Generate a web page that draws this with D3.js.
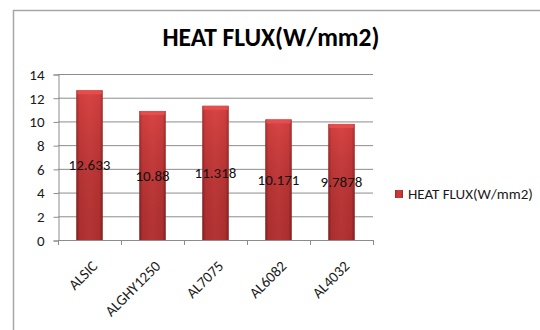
<!DOCTYPE html>
<html><head><meta charset="utf-8">
<script src="https://cdn.jsdelivr.net/npm/d3@7"></script>
<style>body{margin:0;background:#fff}svg{display:block}</style>
</head><body>
<script>
const categories = ["ALSIC","ALGHY1250","AL7075","AL6082","AL4032"];
const values = [12.633, 10.88, 11.318, 10.171, 9.7878];
const labels = ["12.633","10.88","11.318","10.171","9.7878"];
const yTicks = [0,2,4,6,8,10,12,14];
const seriesName = "HEAT FLUX(W/mm2)";
const titleText = "HEAT FLUX(W/mm2)";

(function(){
const W=540,H=330;
const font = "Carlito, 'Liberation Sans', Arial, sans-serif";
const svg=d3.select("body").append("svg").attr("width",W).attr("height",H);
const defs=svg.append("defs");
const g1=defs.append("linearGradient").attr("id","barH").attr("x1","0").attr("x2","1").attr("y1","0").attr("y2","0");
g1.append("stop").attr("offset","0").attr("stop-color","#8a2020");
g1.append("stop").attr("offset","0.12").attr("stop-color","#c23434");
g1.append("stop").attr("offset","0.5").attr("stop-color","#cc3b3b");
g1.append("stop").attr("offset","0.88").attr("stop-color","#c23434");
g1.append("stop").attr("offset","1").attr("stop-color","#8a2020");
const g2=defs.append("linearGradient").attr("id","barV").attr("x1","0").attr("x2","0").attr("y1","0").attr("y2","1");
g2.append("stop").attr("offset","0").attr("stop-color","#ff6060").attr("stop-opacity","0.25");
g2.append("stop").attr("offset","1").attr("stop-color","#000000").attr("stop-opacity","0.12");

svg.append("rect").attr("x",13.5).attr("y",10.5).attr("width",W).attr("height",H).attr("fill","none").attr("stroke","#a6a6a6").attr("stroke-width",1.5);

svg.append("text").attr("x",271).attr("y",46).attr("text-anchor","middle")
  .attr("font-family",font).attr("font-weight","bold").attr("font-size",25.5).attr("fill","#000").text(titleText);

const pL=58,pR=373,pT=74,pB=240;
const x=d3.scaleBand().domain(categories).range([pL,pR]).paddingInner(0.58).paddingOuter(0.29);
const xb=d3.scaleBand().domain(categories).range([pL,pR]);
const y=d3.scaleLinear().domain([0,14]).range([pB,pT]);

svg.append("g").selectAll("line").data(yTicks.filter(d=>d>0)).join("line")
  .attr("x1",pL).attr("x2",pR).attr("y1",d=>y(d)+0.5).attr("y2",d=>y(d)+0.5)
  .attr("stroke","#8c8c8c").attr("stroke-width",1);

const ya=svg.append("g").attr("transform",`translate(${pL+0.5},0.5)`)
  .call(d3.axisLeft(y).tickValues(yTicks).tickSize(5).tickPadding(9).tickFormat(d3.format("d")));
ya.select(".domain").attr("stroke","#8c8c8c");
ya.selectAll(".tick line").attr("stroke","#8c8c8c");
ya.selectAll("text").attr("font-family",font).attr("font-size",15).attr("fill","#1a1a1a");

const bars=svg.append("g").selectAll("g").data(categories).join("g");
bars.append("rect").attr("x",d=>x(d)).attr("width",x.bandwidth())
  .attr("y",(d,i)=>y(values[i])).attr("height",(d,i)=>pB-y(values[i])).attr("fill","url(#barH)");
bars.append("rect").attr("x",d=>x(d)).attr("width",x.bandwidth())
  .attr("y",(d,i)=>y(values[i])).attr("height",(d,i)=>pB-y(values[i])).attr("fill","url(#barV)");
bars.append("rect").attr("x",d=>x(d)+1).attr("width",x.bandwidth()-2)
  .attr("y",(d,i)=>y(values[i])).attr("height",4).attr("fill","#e85050").attr("opacity",0.85);

svg.append("line").attr("x1",pL).attr("x2",pR).attr("y1",pB+0.5).attr("y2",pB+0.5).attr("stroke","#8c8c8c");
const bounds=categories.map(c=>xb(c)).concat([pR]);
svg.append("g").selectAll("line").data(bounds).join("line")
  .attr("x1",d=>d+0.5).attr("x2",d=>d+0.5).attr("y1",pB).attr("y2",pB+5).attr("stroke","#8c8c8c");
svg.append("g").selectAll("text").data(categories).join("text")
  .attr("transform",d=>`translate(${xb(d)+xb.bandwidth()/2+9},${pB+27}) rotate(-45)`)
  .attr("text-anchor","end").attr("font-family",font).attr("font-size",15).attr("fill","#1a1a1a").text(d=>d);

svg.append("g").selectAll("text").data(categories).join("text")
  .attr("x",d=>x(d)+x.bandwidth()/2).attr("y",(d,i)=>y(values[i]/2)).attr("dy","0.35em")
  .attr("text-anchor","middle").attr("font-family",font).attr("font-size",15).attr("fill","#111").text((d,i)=>labels[i]);

svg.append("rect").attr("x",395).attr("y",190).attr("width",8).attr("height",8).attr("fill","url(#barH)");
svg.append("text").attr("x",408).attr("y",199).attr("font-family",font).attr("font-size",15).attr("fill","#1a1a1a").text(seriesName);
})();
</script>
</body></html>
